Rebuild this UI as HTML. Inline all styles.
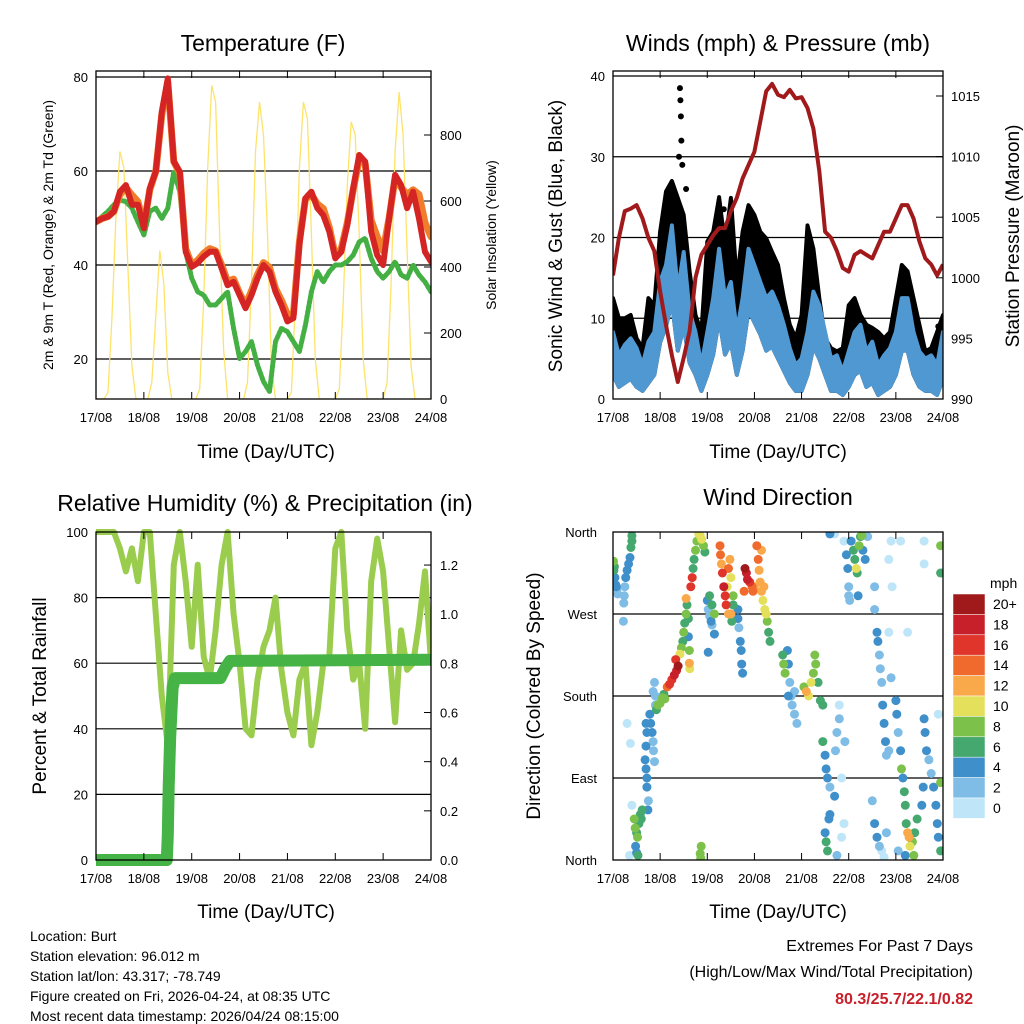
<!DOCTYPE html>
<html><head><meta charset="utf-8"><title>Burt station meteogram</title>
<style>
html,body{margin:0;padding:0;background:#fff;}
svg{display:block;font-family:"Liberation Sans",Arial,sans-serif;}
</style></head>
<body>
<svg id="chart" width="1024" height="1024" viewBox="0 0 1024 1024" xmlns="http://www.w3.org/2000/svg">
<rect x="0" y="0" width="1024" height="1024" fill="#fff"/>
<text x="263" y="51" font-size="23" text-anchor="middle">Temperature (F)</text>
<text x="778" y="51" font-size="23" text-anchor="middle">Winds (mph) &amp; Pressure (mb)</text>
<text x="265" y="511" font-size="23" text-anchor="middle">Relative Humidity (%) &amp; Precipitation (in)</text>
<text x="778" y="505" font-size="23" text-anchor="middle">Wind Direction</text>
<text x="266" y="458" font-size="19" text-anchor="middle">Time (Day/UTC)</text>
<text x="778" y="458" font-size="19" text-anchor="middle">Time (Day/UTC)</text>
<text x="266" y="918" font-size="19" text-anchor="middle">Time (Day/UTC)</text>
<text x="778" y="918" font-size="19" text-anchor="middle">Time (Day/UTC)</text>
<text transform="translate(53,235) rotate(-90)" font-size="14" text-anchor="middle">2m &amp; 9m T (Red, Orange) &amp; 2m Td (Green)</text>
<text transform="translate(496,235) rotate(-90)" font-size="14" text-anchor="middle">Solar Insolation (Yellow)</text>
<text transform="translate(562,236) rotate(-90)" font-size="19" text-anchor="middle">Sonic Wind &amp; Gust (Blue, Black)</text>
<text transform="translate(1019,236) rotate(-90)" font-size="19" text-anchor="middle">Station Pressure (Maroon)</text>
<text transform="translate(46,696) rotate(-90)" font-size="19" text-anchor="middle">Percent &amp; Total Rainfall</text>
<text transform="translate(540,696) rotate(-90)" font-size="19" text-anchor="middle">Direction (Colored By Speed)</text>
<g font-size="14">
<text x="30" y="941">Location: Burt</text>
<text x="30" y="961">Station elevation: 96.012 m</text>
<text x="30" y="981">Station lat/lon: 43.317; -78.749</text>
<text x="30" y="1001">Figure created on Fri, 2026-04-24, at 08:35 UTC</text>
<text x="30" y="1021">Most recent data timestamp: 2026/04/24 08:15:00</text>
</g>
<g font-size="16" text-anchor="end">
<text x="973" y="951">Extremes For Past 7 Days</text>
<text x="973" y="977">(High/Low/Max Wind/Total Precipitation)</text>
<text x="973" y="1004" fill="#c8202a" font-weight="bold">80.3/25.7/22.1/0.82</text>
</g>
<g id="layer"></g>
</svg>
<script>
// ---------- DATA ----------
var dayLabels = ["17/08","18/08","19/08","20/08","21/08","22/08","23/08","24/08"];
var temp2m = [49.2,49.9,50.3,51.4,55.6,57.0,52.8,52.8,47.8,56.3,59.9,72.6,79.7,62.0,59.9,42.8,39.6,40.4,41.8,42.8,42.8,39.3,35.7,36.4,33.6,30.8,33.6,37.2,40.0,38.6,34.3,31.5,28.0,28.7,44.3,54.2,55.6,52.1,50.6,47.1,41.4,42.8,48.5,56.3,63.4,62.0,47.1,42.1,40.0,49.9,59.2,57.0,52.1,55.6,49.9,42.8,40.7];
var temp9m = [49.2,49.9,50.3,51.4,55.0,56.5,54.9,53.5,48.5,56.0,59.9,72.0,79.0,62.0,59.5,43.5,40.0,41.0,42.5,43.5,43.0,40.0,36.5,37.0,34.0,31.5,34.5,38.0,40.5,39.5,35.0,32.5,29.5,29.5,45.0,54.0,55.0,53.0,52.0,48.0,42.0,43.5,49.0,56.0,62.5,61.5,49.5,46.0,43.0,50.0,58.5,56.5,55.0,56.0,55.0,49.0,46.0];
var dewpoint = [49.2,50.3,51.4,52.8,53.8,53.5,52.1,49.2,46.4,51.4,52.1,49.9,52.1,59.9,55.6,42.8,37.2,34.3,33.6,31.5,31.5,32.9,34.3,26.5,20.1,21.6,23.7,18.7,15.2,13.1,23.7,26.5,25.8,23.7,21.6,27.2,34.3,38.6,36.4,38.6,40.0,40.0,40.7,42.1,44.9,45.7,41.4,38.6,37.2,38.6,40.7,37.9,37.2,40.0,37.9,36.4,34.3];
var solar = [0,0,0,20,250,550,750,700,400,100,0,0,
 0,0,50,250,450,350,80,0,0,0,0,0,
 0,0,30,300,700,950,900,500,150,0,0,0,
 0,0,50,350,750,900,800,500,100,0,0,0,
 0,20,300,700,900,850,500,120,0,0,0,0,
 0,30,300,650,840,800,500,120,0,0,0,0,
 0,50,350,750,930,800,450,100,0,0,0,0,0];
var pressure = [1000.2,1003.3,1005.5,1005.7,1006.0,1004.9,1003.3,1002.2,998.9,996.1,993.6,991.4,993.4,995.6,1000.0,1001.9,1002.7,1003.5,1004.1,1004.1,1005.5,1006.6,1008.2,1009.3,1010.4,1012.9,1015.4,1016.0,1015.1,1014.9,1015.5,1014.8,1014.9,1014.0,1012.3,1008.8,1003.8,1003.3,1002.2,1000.8,1000.5,1001.9,1002.2,1001.9,1001.6,1002.7,1003.8,1003.8,1004.9,1006.0,1006.0,1004.9,1003.0,1001.6,1001.1,1000.2,1001.1];
var windHigh = [8.3,5.4,6.7,7.5,6.3,4.2,7.1,8.3,14.5,16.6,21.5,13.3,18.2,10.8,8.3,4.2,8.3,12.5,18.6,12.5,14.5,8.3,12.5,18.6,16.6,14.5,12.5,13.3,11.6,9.2,6.3,4.2,5.0,8.3,13.3,11.6,8.3,5.0,5.4,3.4,5.9,8.3,9.2,5.9,7.1,4.2,5.4,6.3,8.3,12.5,12.5,8.3,5.9,5.0,5.4,4.2,8.3];
var windLow = [3.0,1.5,2.0,2.5,1.5,1.0,2.0,3.0,7.0,9.0,12.0,6.0,9.0,4.5,3.0,1.0,3.0,5.5,10.0,5.5,7.0,3.0,6.0,11.0,9.5,8.0,6.0,6.5,5.0,3.5,2.0,1.0,1.0,3.0,6.5,5.0,3.0,1.0,1.0,0.5,1.5,3.0,3.5,1.5,2.0,0.5,1.0,1.5,3.0,6.0,6.0,3.0,1.5,1.0,1.0,0.5,2.5];
var gust = [12.5,10.0,10.0,10.4,7.5,6.3,12.5,11.6,20.7,25.7,27.0,24.9,22.8,15.8,10.4,8.3,19.5,20.7,25.0,19.1,24.9,14.5,20.7,24.0,22.8,20.7,19.9,18.2,16.6,12.5,9.2,7.5,10.4,21.5,18.6,12.5,7.5,6.3,5.9,6.3,11.6,12.5,10.4,9.2,8.8,8.3,7.5,8.3,12.5,16.6,15.8,12.5,9.2,5.9,6.3,8.3,10.4];
var gustOutlierDays = [1.42,1.43,1.44,1.45,2.35,2.5,1.55,5.1,6.3,6.9,1.4,1.47];
var gustOutlierVals = [38.5,37,35,32,23.5,21,26,12,13,9,30,29];
var rh = [100,100,100,100,95,88,95,85,100,100,75,50,35,90,100,85,65,90,62,55,70,90,100,75,60,40,38,55,65,70,80,58,45,38,55,60,35,45,60,62,95,100,70,55,60,40,85,98,88,65,42,70,58,60,72,88,60];
var precipDays = [0,1.48,1.5,1.52,1.55,1.6,1.65,2.6,2.7,2.8,7.0];
var precipVals = [0,0,0.1,0.3,0.5,0.7,0.74,0.74,0.78,0.81,0.815];
var dirDays = [0.01,0.02,0.04,0.06,0.08,0.1,0.07,0.03,0.4,0.4,0.38,0.36,0.33,0.3,0.27,0.25,0.24,0.23,0.22,
0.45,0.47,0.5,0.52,0.55,0.58,0.6,0.48,0.5,0.53,0.62,0.35,0.4,0.3,0.37,
0.7,0.72,0.7,0.68,0.7,0.72,0.72,0.75,0.74,0.78,0.8,0.83,0.85,0.86,0.88,0.9,0.9,0.88,0.85,0.92,0.95,1.0,1.05,1.08,1.1,
1.15,1.2,1.25,1.3,1.35,1.38,1.33,
1.42,1.45,1.48,1.5,1.52,1.55,1.57,1.6,1.6,1.62,1.55,1.62,1.63,
1.65,1.68,1.7,1.72,1.75,1.78,1.82,1.85,1.88,1.92,1.95,1.85,1.86,1.87,
2.0,2.02,2.05,2.08,2.1,2.15,2.1,2.15,2.05,2.02,
2.27,2.28,2.3,2.32,2.35,2.38,2.4,2.42,2.45,2.48,2.5,2.55,2.5,2.45,2.55,2.52,
2.65,2.65,2.67,2.7,2.72,2.73,2.75,
2.8,2.83,2.85,2.9,2.95,2.97,3.0,2.78,
3.05,3.08,3.1,3.12,3.15,3.18,3.22,3.25,3.27,3.3,3.33,3.2,3.15,
3.6,3.62,3.65,3.7,3.72,3.75,3.78,3.8,3.85,3.9,3.85,3.72,
4.05,4.1,4.15,4.2,4.25,4.3,4.35,4.4,4.45,4.28,
4.45,4.5,4.52,4.55,4.6,4.7,4.72,4.75,4.8,4.58,4.5,4.52,4.55,4.6,4.75,4.85,4.9,4.85,4.8,4.92,
4.95,4.98,5.0,5.05,5.1,5.13,5.16,5.18,5.22,5.25,5.3,5.35,5.4,5.0,5.02,5.2,5.28,4.6,4.7,4.9,
5.55,5.55,5.6,5.62,5.65,5.67,5.7,5.72,5.75,5.78,5.8,5.5,5.55,5.6,5.65,5.7,5.75,5.8,5.85,5.9,5.85,5.85,5.9,5.92,
6.0,6.02,6.05,6.1,6.12,6.15,6.18,6.2,6.22,6.25,6.28,6.3,6.35,6.4,6.45,6.38,6.2,6.05,6.55,6.58,6.6,6.62,6.65,6.7,6.75,6.8,6.85,6.88,6.9,6.95,6.95,6.9,6.6,6.6,6.95,6.95,6.1,6.25];
var dirDeg = [328,318,310,302,296,292,300,322,356,350,343,332,325,318,310,300,290,282,262,
45,35,30,25,40,50,45,15,8,5,55,5,60,150,128,
150,140,125,110,100,90,80,65,55,160,150,140,130,120,108,170,180,195,185,165,170,172,178,182,177,
190,193,198,203,208,213,220,
226,233,240,250,260,270,280,265,245,230,287,216,210,
300,310,320,330,340,350,358,356,352,345,338,7,2,15,
285,275,268,262,258,248,280,270,290,228,
345,335,325,315,300,290,280,300,320,330,310,290,270,270,280,262,
275,265,255,240,230,215,205,
320,315,308,305,300,295,300,295,
345,330,318,305,295,285,275,270,262,250,240,300,340,
225,215,205,230,215,195,180,170,160,150,185,180,
190,185,180,195,205,215,195,175,170,225,
130,115,100,90,80,70,120,140,155,45,30,20,10,50,5,25,40,90,170,130,
335,320,300,350,340,330,320,315,345,355,340,330,355,290,285,290,356,358,358,350,
300,275,250,240,225,210,195,170,150,130,115,65,40,25,15,10,3,30,120,200,250,330,350,300,
175,160,140,120,100,90,75,60,40,30,25,15,20,30,45,5,5,10,60,80,155,140,120,110,95,80,60,40,25,10,85,160,350,325,345,315,350,250];
var dirSpeed = [8,6,4,4,2,2,4,6,6,6,6,4,4,4,4,2,2,2,2,
8,8,7,8,6,6,6,4,4,6,6,1,1,1,1,
4,4,4,4,4,4,4,2,4,4,4,4,2,2,2,2,2,2,2,6,8,8,8,6,8,
14,16,16,18,18,20,16,
10,8,6,8,6,8,6,6,4,8,12,12,10,
16,16,6,6,8,8,10,10,10,8,6,8,8,8,
4,2,2,4,2,4,6,8,6,4,
14,14,12,16,18,16,16,10,14,12,10,8,12,12,6,6,
4,4,2,4,4,4,4,
20,18,18,16,14,14,12,14,
14,14,12,12,12,10,10,10,8,6,6,12,12,
6,8,8,4,4,2,2,2,2,2,2,4,
8,12,10,10,8,8,6,6,6,8,
6,4,4,4,2,4,2,2,2,4,4,6,6,4,2,1,1,1,1,2,
4,4,2,4,6,6,10,6,8,6,4,4,2,2,2,4,8,4,1,1,
2,2,4,4,2,2,2,4,4,4,2,2,4,4,2,1,1,2,2,2,1,1,1,1,
4,4,2,4,8,4,6,6,6,12,12,10,8,6,6,8,4,2,4,4,4,4,4,2,2,4,4,4,4,6,8,1,1,1,8,6,1,1];
var cbLabels = ["20+","18","16","14","12","10","8","6","4","2","0"];
var cbColors = ["#a01a1c","#c8202a","#e0352b","#ef6a2c","#f9a84a","#e5e05c","#7cc14a","#45a86e","#3f8fca","#7fbde6","#bfe5f8"];

// ---------- HELPERS ----------
var NS = "http://www.w3.org/2000/svg";
var layer = document.getElementById("layer");
function el(tag, attrs, parent){
  var e = document.createElementNS(NS, tag);
  for (var k in attrs) e.setAttribute(k, attrs[k]);
  (parent||layer).appendChild(e);
  return e;
}
function txt(x,y,s,anchor,size,parent){
  var t = el("text",{x:x,y:y,"font-size":size||13,"text-anchor":anchor||"middle"},parent);
  t.textContent = s; return t;
}
function linePath(xs, ys){
  var d=""; for(var i=0;i<xs.length;i++){ d += (i?"L":"M")+xs[i].toFixed(1)+","+ys[i].toFixed(1); } return d;
}
function speedColor(s){
  var idx = s>=20?0: s>=18?1: s>=16?2: s>=14?3: s>=12?4: s>=10?5: s>=8?6: s>=6?7: s>=4?8: s>=2?9:10;
  return cbColors[idx];
}
function clip(id,x0,y0,x1,y1){
  var defs = el("defs",{});
  var cp = el("clipPath",{id:id},defs);
  el("rect",{x:x0,y:y0,width:x1-x0,height:y1-y0},cp);
}
function frame(g,x0,y0,x1,y1,xs){
  for (var i=0;i<dayLabels.length;i++){
    var x = xs(i);
    el("line",{x1:x,y1:y1,x2:x,y2:y1-7,stroke:"#000","stroke-width":1},g);
    el("line",{x1:x,y1:y0,x2:x,y2:y0+7,stroke:"#000","stroke-width":1},g);
    var lb = txt(x,y1+23,dayLabels[i],"middle",13,g);
    
    
  }
  var r = el("rect",{x:x0,y:y0,width:x1-x0,height:y1-y0,fill:"none",stroke:"#000","stroke-width":1.3},g);
  
  
}
function hgrid(g,x0,x1,y){ el("line",{x1:x0,y1:y,x2:x1,y2:y,stroke:"#000","stroke-width":1.2},g); }

// ---------- PANEL 1: TEMPERATURE ----------
(function(){
  var X0=96,X1=431,Y0=71,Y1=399;
  var g = el("g",{});  
  clip("c1",X0,Y0,X1,Y1);
  function xh(h){ return X0 + h/168*(X1-X0); }
  function yT(v){ return 77 + (80-v)*4.7; }
  function yS(s){ return 399 - s*0.33; }
  [20,40,60,80].forEach(function(v){ hgrid(g,X0,X1,yT(v)); var t=txt(X0-8,yT(v)+5,String(v),"end",13,g);   });
  [0,200,400,600,800].forEach(function(v){ el("line",{x1:X1,y1:yS(v),x2:X1-7,y2:yS(v),stroke:"#000"},g); var t=txt(X1+9,yS(v)+5,String(v),"start",13,g);   });
  var pg = el("g",{"clip-path":"url(#c1)"},g);
  var sx=[],sy=[]; for (var i=0;i<solar.length;i++){ sx.push(xh(i*2)); sy.push(yS(solar[i])); }
  var ps = el("path",{d:linePath(sx,sy),fill:"none",stroke:"#fde36a","stroke-width":1.3},pg);
   
  function series(arr,color,w,name,dash){
    var xs=[],ys=[]; for (var i=0;i<arr.length;i++){ xs.push(xh(i*3)); ys.push(yT(arr[i])); }
    var p = el("path",{d:linePath(xs,ys),fill:"none",stroke:color,"stroke-width":w,"stroke-linejoin":"round","stroke-linecap":"round"},pg);
    if (dash) p.setAttribute("stroke-dasharray",dash);
     
  }
  series(dewpoint,"#44b044",5,"dewpoint-line","3 2");
  series(temp9m,"#f07d2c",7,"temp-9m-line");
  series(temp2m,"#d42424",6,"temp-2m-line");
  frame(g,X0,Y0,X1,Y1,function(i){return xh(i*24);});
})();

// ---------- PANEL 2: WINDS & PRESSURE ----------
(function(){
  var X0=613,X1=943,Y0=71,Y1=399;
  var g = el("g",{});  
  clip("c2",X0,Y0,X1,Y1);
  function xd(d){ return X0 + d/7*(X1-X0); }
  function yW(v){ return 399 - v*8.075; }
  function yP(p){ return 399 - (p-990)*12.12; }
  [0,10,20,30,40].forEach(function(v){ if(v>0) hgrid(g,X0,X1,yW(v)); var t=txt(X0-8,yW(v)+5,String(v),"end",13,g);   });
  [990,995,1000,1005,1010,1015].forEach(function(v){ el("line",{x1:X1,y1:yP(v),x2:X1-7,y2:yP(v),stroke:"#000"},g); var t=txt(X1+8,yP(v)+5,String(v),"start",13,g);   });
  var pg = el("g",{"clip-path":"url(#c2)"},g);
  var n = gust.length, xs=[];
  for (var i=0;i<n;i++) xs.push(xd(i*3/24));
  var d="";
  for (i=0;i<n;i++) d += (i?"L":"M")+xs[i].toFixed(1)+","+yW(gust[i]).toFixed(1);
  for (i=n-1;i>=0;i--) d += "L"+xs[i].toFixed(1)+","+yW(windLow[i]).toFixed(1);
  var gb = el("path",{d:d+"Z",fill:"#000",stroke:"#000","stroke-width":4,"stroke-linejoin":"round"},pg);
   
  for (i=0;i<gustOutlierDays.length;i++){
    var c = el("circle",{cx:xd(gustOutlierDays[i]),cy:yW(gustOutlierVals[i]),r:3,fill:"#000"},pg);
     
  }
  d="";
  for (i=0;i<n;i++) d += (i?"L":"M")+xs[i].toFixed(1)+","+yW(windHigh[i]).toFixed(1);
  for (i=n-1;i>=0;i--) d += "L"+xs[i].toFixed(1)+","+yW(windLow[i]).toFixed(1);
  var wb = el("path",{d:d+"Z",fill:"#4f98d2",stroke:"#4f98d2","stroke-width":4,"stroke-linejoin":"round"},pg);
   
  var py=[]; for (i=0;i<pressure.length;i++) py.push(yP(pressure[i]));
  var pp = el("path",{d:linePath(xs,py),fill:"none",stroke:"#a01a1c","stroke-width":4,"stroke-linejoin":"round"},pg);
   
  frame(g,X0,Y0,X1,Y1,function(i){return xd(i);});
})();

// ---------- PANEL 3: RH & PRECIP ----------
(function(){
  var X0=96,X1=431,Y0=532,Y1=860;
  var g = el("g",{});  
  clip("c3",X0,Y0-8,X1,Y1+8);
  function xd(d){ return X0 + d/7*(X1-X0); }
  function yR(v){ return 860 - v*3.28; }
  function yPr(p){ return 860 - p*245.8; }
  [0,20,40,60,80,100].forEach(function(v){ if(v>0&&v<100) hgrid(g,X0,X1,yR(v)); var t=txt(X0-8,yR(v)+5,String(v),"end",13,g);   });
  ["0.0","0.2","0.4","0.6","0.8","1.0","1.2"].forEach(function(s){ var v=parseFloat(s); el("line",{x1:X1,y1:yPr(v),x2:X1-7,y2:yPr(v),stroke:"#000"},g); var t=txt(X1+9,yPr(v)+5,s,"start",13,g);   });
  var pg = el("g",{"clip-path":"url(#c3)"},g);
  var xs=[],ys=[]; for (var i=0;i<rh.length;i++){ xs.push(xd(i*3/24)); ys.push(yR(rh[i])); }
  var rl = el("path",{d:linePath(xs,ys),fill:"none",stroke:"#9acd4e","stroke-width":6,"stroke-linejoin":"round"},pg);
   
  var px=[],py=[]; for (i=0;i<precipDays.length;i++){ px.push(xd(precipDays[i])); py.push(yPr(precipVals[i])); }
  var pl = el("path",{d:linePath(px,py),fill:"none",stroke:"#45b345","stroke-width":12,"stroke-linecap":"round","stroke-linejoin":"round"},pg);
   
  frame(g,X0,Y0,X1,Y1,function(i){return xd(i);});
})();

// ---------- PANEL 4: WIND DIRECTION ----------
(function(){
  var X0=613,X1=943,Y0=532,Y1=860;
  var g = el("g",{});  
  clip("c4",X0,Y0,X1,Y1);
  function xd(d){ return X0 + d/7*(X1-X0); }
  function yD(deg){ return 860 - deg*0.911; }
  var names=["North","East","South","West","North"];
  for (var k=0;k<5;k++){ var v=k*90; if(k>0&&k<4) hgrid(g,X0,X1,yD(v)); var t=txt(X0-16,yD(v)+5,names[k],"end",13,g);   }
  var pg = el("g",{"clip-path":"url(#c4)"},g);
  var order=[]; for (var i=0;i<dirDays.length;i++) order.push(i);
  order.sort(function(a,b){return dirSpeed[a]-dirSpeed[b];});
  order.forEach(function(i){
    var c = el("circle",{cx:xd(dirDays[i]).toFixed(1),cy:yD(dirDeg[i]).toFixed(1),r:4.5,fill:speedColor(dirSpeed[i])},pg);
     
  });
  frame(g,X0,Y0,X1,Y1,function(i){return xd(i);});
  var cb = el("g",{});  
  var t0 = txt(990,588,"mph","start",14,cb);  
  for (i=0;i<cbColors.length;i++){
    var y = 594 + i*20.4;
    var r = el("rect",{x:953,y:y,width:32,height:20.4,fill:cbColors[i],stroke:"#fff","stroke-width":0.5},cb);
     
    var l = txt(993,y+15,cbLabels[i],"start",14,cb);
     
  }
})();
</script>
</body></html>
